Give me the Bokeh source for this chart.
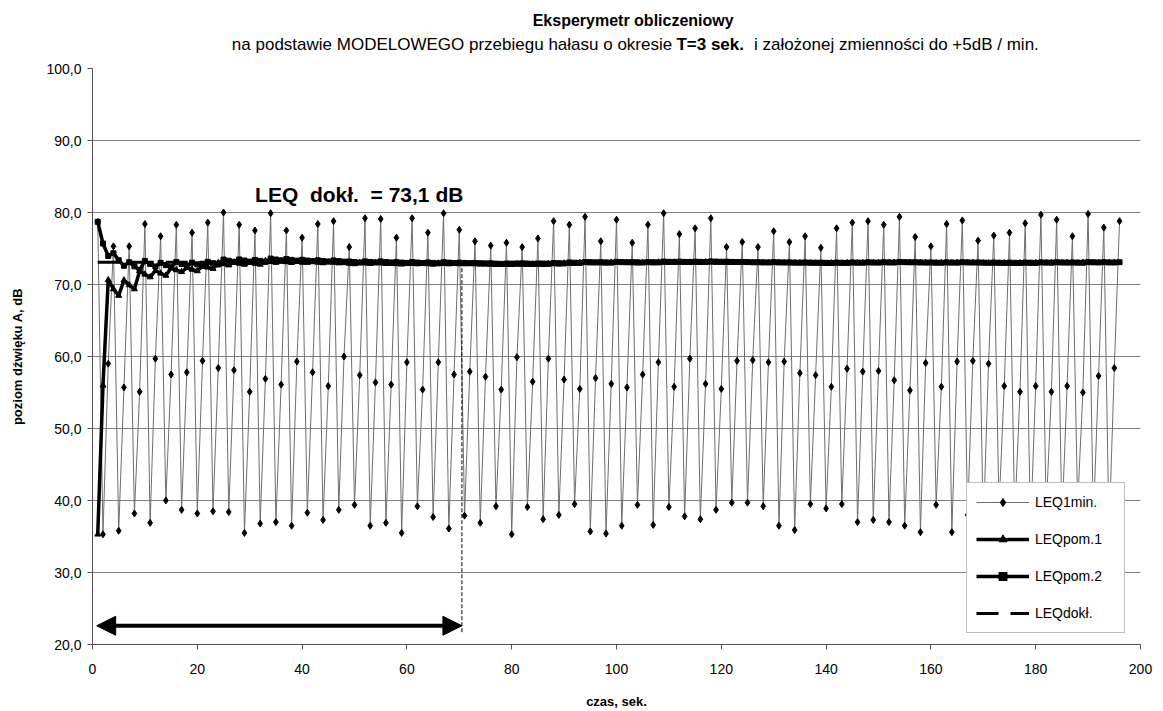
from bokeh.plotting import figure
from bokeh.layouts import column
from bokeh.models import (Range1d, FixedTicker, Label, Legend, LegendItem,
                          Arrow, NormalHead)
from bokeh.core.properties import value
from bokeh.embed import file_html
from bokeh.resources import INLINE

FONT = "Liberation Sans"

# 1-second sound levels, dB(A), t = 1 .. 196 s (period T = 3 s: high / low / mid)
leq_1min = [
    78.7, 35.3, 59.0,  75.3, 35.8, 55.7,  75.3, 38.2, 55.1,  78.4, 36.9, 59.7,
    76.7, 40.0, 57.5,  78.3, 38.7, 57.8,  77.2, 38.2, 59.4,  78.6, 38.5, 58.4,
    80.0, 38.4, 58.1,  78.3, 35.5, 55.1,  77.5, 36.8, 56.9,  79.9, 37.0, 56.1,
    77.5, 36.5, 59.3,  76.5, 38.3, 57.8,  78.4, 37.3, 55.9,  78.8, 38.7, 60.0,
    75.2, 39.4, 57.4,  79.2, 36.5, 56.4,  79.1, 36.9, 56.1,  76.5, 35.5, 59.2,
    79.2, 39.2, 55.4,  77.2, 37.7, 59.2,  79.9, 36.1, 57.5,  77.6, 37.9, 57.9,
    76.0, 36.9, 57.2,  75.4, 39.2, 55.4,  75.8, 35.3, 59.9,  75.2, 39.1, 56.5,
    76.4, 37.4, 59.7,  78.8, 38.0, 56.8,  78.3, 39.5, 55.5,  79.4, 35.7, 57.0,
    76.0, 35.4, 56.2,  79.0, 36.5, 55.7,  75.8, 39.4, 57.5,  78.3, 36.6, 59.2,
    79.9, 39.1, 55.8,  77.0, 37.8, 59.7,  77.8, 37.4, 56.2,  79.2, 38.7, 55.5,
    75.2, 39.7, 59.4,  75.9, 39.7, 59.5,  75.2, 39.2, 59.2,  77.4, 36.5, 59.3,
    75.9, 35.9, 57.7,  76.7, 39.5, 57.4,  75.1, 38.9, 55.8,  77.8, 39.5, 58.3,
    78.6, 37.0, 57.9,  78.8, 37.3, 58.0,  78.3, 37.0, 56.7,  79.4, 36.5, 55.3,
    76.6, 35.6, 59.1,  75.3, 39.4, 55.8,  78.4, 35.6, 59.3,  78.9, 38.0, 59.4,
    76.1, 36.2, 59.0,  76.8, 39.0, 55.9,  77.2, 37.5, 55.1,  78.5, 35.8, 55.9,
    79.7, 38.6, 55.1,  79.0, 36.9, 55.9,  76.7, 39.3, 55.0,  79.8, 37.2, 57.3,
    77.9, 35.5, 58.4,  78.8,
]

# running equivalent level, measurement 1
leq_pom1 = [
    35.30, 55.99, 70.63, 69.38, 68.46, 70.60, 69.93, 69.37, 71.87, 71.41,
    71.03, 71.91, 71.56, 71.25, 72.29, 72.01, 71.76, 72.32, 72.09, 71.88,
    72.58, 72.38, 72.20, 73.02, 72.85, 72.68, 73.09, 72.93, 72.78, 73.05,
    72.91, 72.78, 73.29, 73.16, 73.04, 73.25, 73.13, 73.02, 73.16, 73.07,
    73.04, 73.16, 73.07, 72.98, 73.14, 73.05, 72.97, 73.00, 72.92, 72.85,
    73.03, 72.95, 72.88, 73.03, 72.95, 72.88, 72.93, 72.86, 72.80, 72.94,
    72.90, 72.84, 72.92, 72.85, 72.79, 72.95, 72.89, 72.83, 72.89, 72.85,
    72.84, 72.87, 72.83, 72.80, 72.82, 72.78, 72.75, 72.78, 72.75, 72.78,
    72.82, 72.79, 72.76, 72.81, 72.78, 72.75, 72.87, 72.84, 72.81, 72.95,
    72.93, 72.90, 73.03, 73.00, 72.97, 73.00, 72.97, 72.94, 73.05, 73.02,
    73.00, 73.02, 72.99, 72.96, 73.03, 73.00, 72.98, 73.09, 73.06, 73.04,
    73.09, 73.06, 73.04, 73.09, 73.06, 73.04, 73.12, 73.10, 73.07, 73.08,
    73.07, 73.05, 73.06, 73.04, 73.02, 73.03, 73.01, 72.99, 73.03, 73.01,
    72.99, 73.00, 72.98, 72.96, 72.99, 72.97, 72.95, 72.96, 72.94, 72.92,
    72.98, 72.96, 72.94, 73.00, 72.98, 72.96, 73.02, 73.00, 72.98, 73.03,
    73.01, 72.99, 73.06, 73.04, 73.02, 73.03, 73.01, 72.99, 73.00, 72.98,
    72.97, 73.02, 73.00, 72.98, 73.04, 73.02, 73.00, 73.01, 72.99, 72.97,
    72.99, 72.97, 72.95, 72.98, 72.96, 72.94, 72.99, 72.97, 72.95, 73.02,
    73.00, 72.98, 73.03, 73.01, 72.99, 73.01, 72.99, 72.97, 73.05, 73.03,
    73.01, 73.04, 73.02, 73.00, 73.05,
]

# running equivalent level, measurement 2
leq_pom2 = [
    78.70, 75.69, 73.97, 74.35, 73.38, 72.60, 73.10, 72.52, 72.02, 73.27,
    72.86, 72.50, 73.01, 72.69, 72.40, 73.12, 72.86, 72.62, 73.03, 72.80,
    72.60, 73.15, 72.96, 72.78, 73.47, 73.30, 73.14, 73.48, 73.33, 73.18,
    73.41, 73.28, 73.14, 73.60, 73.47, 73.35, 73.54, 73.42, 73.31, 73.43,
    73.33, 73.24, 73.36, 73.27, 73.18, 73.34, 73.25, 73.17, 73.20, 73.12,
    73.05, 73.21, 73.13, 73.06, 73.21, 73.13, 73.06, 73.11, 73.04, 72.98,
    73.12, 73.05, 72.99, 73.07, 73.00, 72.94, 73.10, 73.04, 72.98, 73.04,
    73.00, 72.96, 72.99, 72.95, 72.92, 72.94, 72.90, 72.87, 72.90, 72.87,
    72.90, 72.93, 72.90, 72.87, 72.92, 72.89, 72.86, 72.98, 72.95, 72.92,
    73.06, 73.03, 73.00, 73.13, 73.10, 73.07, 73.10, 73.07, 73.04, 73.15,
    73.12, 73.09, 73.11, 73.08, 73.05, 73.12, 73.09, 73.07, 73.18, 73.15,
    73.13, 73.17, 73.14, 73.12, 73.17, 73.14, 73.12, 73.20, 73.18, 73.15,
    73.16, 73.14, 73.12, 73.13, 73.11, 73.09, 73.10, 73.08, 73.06, 73.10,
    73.08, 73.06, 73.07, 73.05, 73.03, 73.06, 73.04, 73.02, 73.03, 73.01,
    72.99, 73.04, 73.02, 73.00, 73.06, 73.04, 73.02, 73.08, 73.06, 73.04,
    73.09, 73.07, 73.05, 73.12, 73.10, 73.08, 73.09, 73.07, 73.05, 73.06,
    73.04, 73.02, 73.07, 73.05, 73.03, 73.09, 73.07, 73.05, 73.06, 73.04,
    73.02, 73.04, 73.02, 73.00, 73.03, 73.01, 72.99, 73.04, 73.02, 73.00,
    73.07, 73.05, 73.03, 73.08, 73.06, 73.04, 73.06, 73.04, 73.02, 73.10,
    73.08, 73.06, 73.09, 73.07, 73.05, 73.10,
]

# exact equivalent level over the whole record
leq_exact = 73.1
exact_span = [1, 196]
# convergence interval marked on the chart
conv_start, conv_end, conv_level = 0.8, 70.5, 22.6

y_ticks = [20, 30, 40, 50, 60, 70, 80, 90, 100]
y_tick_labels = {v: f"{v},0" for v in y_ticks}
x_ticks = list(range(0, 201, 20))

t_1min = list(range(1, len(leq_1min) + 1))
t_pom1 = list(range(1, len(leq_pom1) + 1))
t_pom2 = list(range(1, len(leq_pom2) + 1))

W, H, HEAD = 1163, 711, 58

# ---- heading strip (pixel coordinates, y grows downwards) ----
head = figure(width=W, height=HEAD, output_backend="svg", toolbar_location=None,
              x_range=Range1d(0, W), y_range=Range1d(HEAD, 0),
              x_axis_type=None, y_axis_type=None,
              min_border=0, outline_line_color=None)
head.grid.visible = False

title_x, title_y, sub_y = 600, 20, 44
sub_size = 17
head.text(x=[title_x], y=[title_y], text=["Eksperymetr obliczeniowy"],
          text_font=value(FONT), text_font_size="16px", text_font_style="bold",
          text_align="center", text_baseline="middle", text_color="black")
head.text(x=[643.3], y=[sub_y],
          text=["na podstawie MODELOWEGO przebiegu hałasu o okresie"],
          text_font=value(FONT), text_font_size=f"{sub_size}px",
          text_align="right", text_baseline="middle", text_color="black")
head.text(x=[648.0], y=[sub_y], text=["T=3 sek."],
          text_font=value(FONT), text_font_size=f"{sub_size}px",
          text_font_style="bold",
          text_align="left", text_baseline="middle", text_color="black")
head.text(x=[734.0], y=[sub_y],
          text=["i założonej zmienności do +5dB / min."],
          text_font=value(FONT), text_font_size=f"{sub_size}px",
          text_align="left", text_baseline="middle", text_color="black")

# ---- main chart ----
p = figure(width=W, height=H - HEAD, output_backend="svg", toolbar_location=None,
           x_range=Range1d(0, 200), y_range=Range1d(20, 100),
           min_border_left=92, min_border_right=23,
           min_border_top=10, min_border_bottom=67)
p.outline_line_color = None
p.background_fill_color = "white"
p.border_fill_color = "white"

for ax in (p.xaxis[0], p.yaxis[0]):
    ax.axis_line_color = "#505050"
    ax.major_tick_line_color = "#505050"
    ax.major_tick_out = 5
    ax.major_tick_in = 0
    ax.minor_tick_line_color = None
    ax.major_label_text_font = FONT
    ax.major_label_text_font_size = "14px"
    ax.major_label_text_color = "black"
    ax.axis_label_text_font = FONT
    ax.axis_label_text_font_size = "13px"
    ax.axis_label_text_font_style = "bold"
    ax.axis_label_text_color = "black"

p.xaxis.ticker = FixedTicker(ticks=x_ticks)
p.xaxis.major_label_standoff = 14
p.xaxis.axis_label = "czas, sek."
p.xaxis.axis_label_standoff = 17

p.yaxis.ticker = FixedTicker(ticks=y_ticks)
p.yaxis.major_label_overrides = y_tick_labels
p.yaxis.major_label_standoff = 6
p.yaxis.axis_label = "poziom dźwięku A, dB"
p.yaxis.axis_label_standoff = 18

p.xgrid.visible = False
p.ygrid.ticker = FixedTicker(ticks=[30, 40, 50, 60, 70, 80, 90])
p.ygrid.grid_line_color = "#808080"
p.ygrid.grid_line_width = 1

r1_line = p.line(t_1min, leq_1min, line_color="#6e6e6e", line_width=1)
r1_pts = p.scatter(t_1min, leq_1min, marker="diamond", size=7,
                   fill_color="black", line_color="black")

r2_line = p.line(t_pom1, leq_pom1, line_color="black", line_width=3.5)
r2_pts = p.scatter(t_pom1, leq_pom1, marker="triangle", size=6,
                   fill_color="black", line_color="black")

r3_line = p.line(t_pom2, leq_pom2, line_color="black", line_width=3.5)
r3_pts = p.scatter(t_pom2, leq_pom2, marker="square", size=5,
                   fill_color="black", line_color="black")

r4_line = p.line(exact_span, [leq_exact, leq_exact], line_color="black",
                 line_width=3, line_dash="22 12")

p.line([conv_end, conv_end], [leq_exact, 21.5], line_color="black",
       line_width=1, line_dash="4 2")
p.add_layout(Arrow(x_start=conv_start, y_start=conv_level,
                   x_end=conv_end, y_end=conv_level,
                   line_width=4, line_color="black",
                   start=NormalHead(size=19, fill_color="black", line_color="black"),
                   end=NormalHead(size=19, fill_color="black", line_color="black")))

p.add_layout(Label(x=50.9, y=82.5, text="LEQ\u00a0\u00a0dokł.\u00a0\u00a0= 73,1 dB",
                   text_font=FONT, text_font_size="21px", text_font_style="bold",
                   text_align="center", text_baseline="middle", text_color="black"))

legend = Legend(items=[
    LegendItem(label="LEQ1min.", renderers=[r1_line, r1_pts]),
    LegendItem(label="LEQpom.1", renderers=[r2_line, r2_pts]),
    LegendItem(label="LEQpom.2", renderers=[r3_line, r3_pts]),
    LegendItem(label="LEQdokł.", renderers=[r4_line]),
], location=(874, 11))
legend.label_text_font = FONT
legend.label_text_font_size = "14px"
legend.label_text_color = "black"
legend.glyph_width = 53
legend.glyph_height = 20
legend.label_height = 20
legend.label_width = 80
legend.spacing = 17
legend.padding = 9
legend.margin = 0
legend.label_standoff = 6
legend.border_line_color = "#808080"
legend.border_line_width = 1
legend.background_fill_color = "white"
legend.background_fill_alpha = 1.0
p.add_layout(legend)

layout = column(head, p, spacing=0)
open("out.html", "w").write(file_html(layout, INLINE))
